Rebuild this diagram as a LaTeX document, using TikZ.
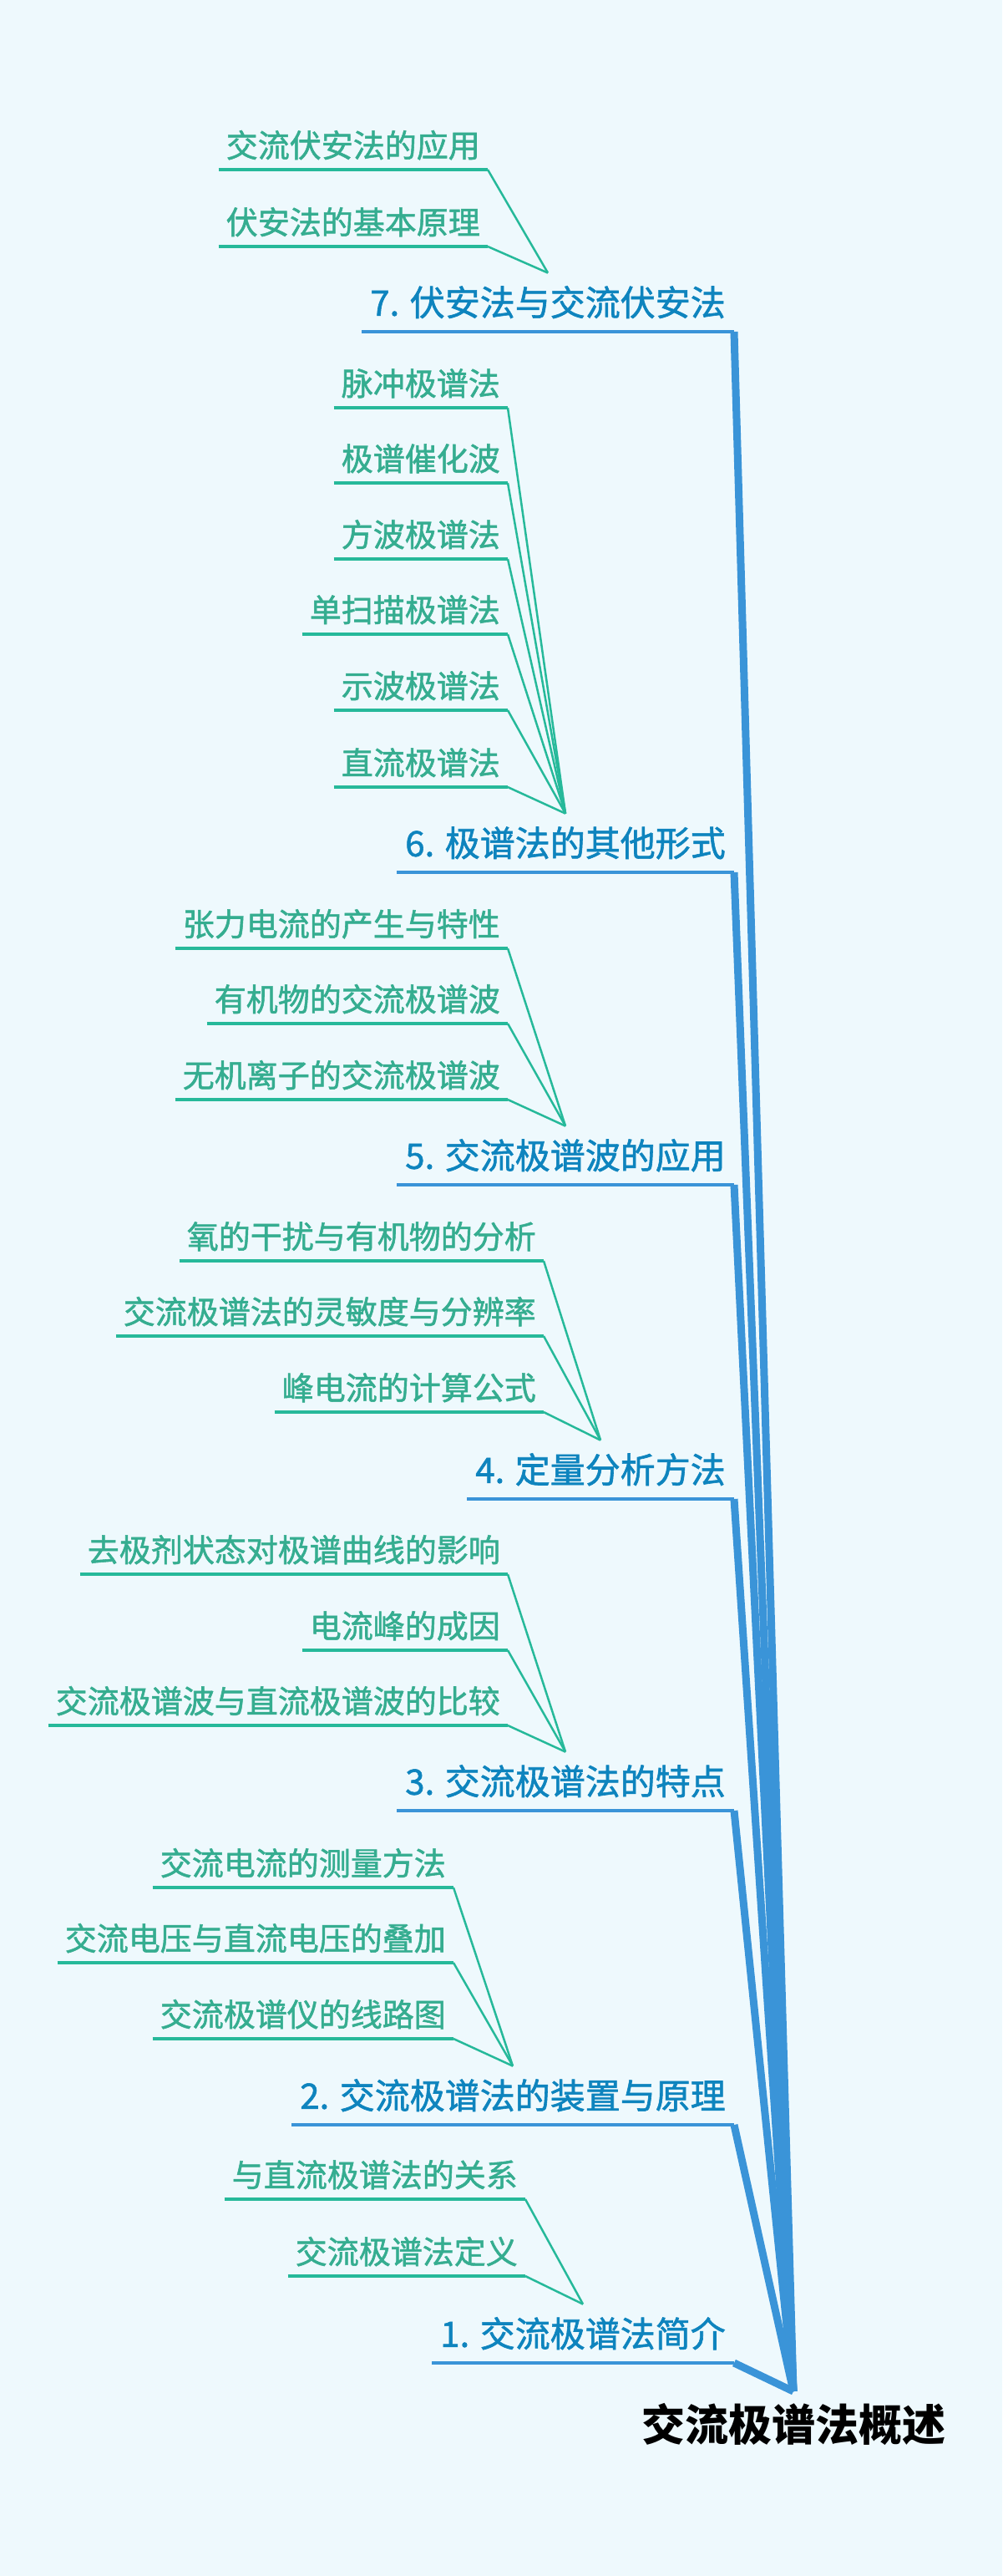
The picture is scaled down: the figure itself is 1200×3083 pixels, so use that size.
\documentclass[tikz,border=0pt]{standalone}
\usepackage{fontspec}
\newfontfamily\cjk{Noto Sans CJK SC}
\newfontfamily\cjkmed[FakeBold=1.4]{Noto Sans CJK SC}
\definecolor{bg}{HTML}{EEF9FD}
\definecolor{maintext}{HTML}{0E84BE}
\definecolor{mainline}{HTML}{3A94D8}
\definecolor{subtext}{HTML}{35AD90}
\definecolor{subline}{HTML}{26B99A}
\tikzset{
  subnode/.style={font=\cjkmed\fontsize{38}{40}\selectfont, text=subtext, inner xsep=9pt, inner ysep=10pt,
    text height=33.4pt, text depth=4.6pt, anchor=south east},
  mainnode/.style={font=\cjkmed\fontsize{42}{44}\selectfont, text=maintext, inner xsep=10pt, inner ysep=14pt,
    text height=37pt, text depth=5pt, anchor=south east},
  rootnode/.style={font=\cjk\bfseries\fontsize{52}{54}\selectfont, text=black, inner xsep=10pt, inner ysep=13pt,
    text height=45.8pt, text depth=6.2pt, anchor=north},
  subunder/.style={draw=subline, line width=4pt},
  subconn/.style={draw=subline, line width=2.5pt},
  mainunder/.style={draw=mainline, line width=4pt},
  mainconn/.style={draw=mainline, line width=9pt},
}
\begin{document}
\begin{tikzpicture}[x=1pt,y=-1pt]
\fill[bg] (0,0) rectangle (1200,3083);
\useasboundingbox (0,0) rectangle (1200,3083);

% root
\node[rootnode] (root) at (950,2862) {交流极谱法概述};

% main branches
\node[mainnode] (m7) at (879,397) {7. 伏安法与交流伏安法};
\node[mainnode] (m6) at (879,1044) {6. 极谱法的其他形式};
\node[mainnode] (m5) at (879,1418) {5. 交流极谱波的应用};
\node[mainnode] (m4) at (879,1794) {4. 定量分析方法};
\node[mainnode] (m3) at (879,2167) {3. 交流极谱法的特点};
\node[mainnode] (m2) at (879,2543) {2. 交流极谱法的装置与原理};
\node[mainnode] (m1) at (879,2828) {1. 交流极谱法简介};

% sub branches
\node[subnode] (s7a) at (584,203) {交流伏安法的应用};
\node[subnode] (s7b) at (584,295) {伏安法的基本原理};

\node[subnode] (s6a) at (608,488) {脉冲极谱法};
\node[subnode] (s6b) at (608,578) {极谱催化波};
\node[subnode] (s6c) at (608,669) {方波极谱法};
\node[subnode] (s6d) at (608,759) {单扫描极谱法};
\node[subnode] (s6e) at (608,850) {示波极谱法};
\node[subnode] (s6f) at (608,942) {直流极谱法};

\node[subnode] (s5a) at (608,1135) {张力电流的产生与特性};
\node[subnode] (s5b) at (608,1225) {有机物的交流极谱波};
\node[subnode] (s5c) at (608,1316) {无机离子的交流极谱波};

\node[subnode] (s4a) at (651,1509) {氧的干扰与有机物的分析};
\node[subnode] (s4b) at (651,1599) {交流极谱法的灵敏度与分辨率};
\node[subnode] (s4c) at (651,1690) {峰电流的计算公式};

\node[subnode] (s3a) at (608,1884) {去极剂状态对极谱曲线的影响};
\node[subnode] (s3b) at (608,1975) {电流峰的成因};
\node[subnode] (s3c) at (608,2065) {交流极谱波与直流极谱波的比较};

\node[subnode] (s2a) at (543,2259) {交流电流的测量方法};
\node[subnode] (s2b) at (543,2349) {交流电压与直流电压的叠加};
\node[subnode] (s2c) at (543,2440) {交流极谱仪的线路图};

\node[subnode] (s1a) at (629,2632) {与直流极谱法的关系};
\node[subnode] (s1b) at (629,2724) {交流极谱法定义};

% main connectors
\foreach \m in {m7,m6,m5,m4,m3,m2,m1}
  \draw[mainconn] (\m.south east) -- (root.north);
\foreach \m in {m7,m6,m5,m4,m3,m2,m1}
  \draw[mainunder] (\m.south west) -- (\m.south east);

% sub connectors
\foreach \s/\m in {s7a/m7,s7b/m7,
  s6a/m6,s6b/m6,s6c/m6,s6d/m6,s6e/m6,s6f/m6,
  s5a/m5,s5b/m5,s5c/m5,
  s4a/m4,s4b/m4,s4c/m4,
  s3a/m3,s3b/m3,s3c/m3,
  s2a/m2,s2b/m2,s2c/m2,
  s1a/m1,s1b/m1}
{
  \draw[subconn] (\s.south east) -- (\m.north);
  \draw[subunder] (\s.south west) -- (\s.south east);
}
\end{tikzpicture}
\end{document}
